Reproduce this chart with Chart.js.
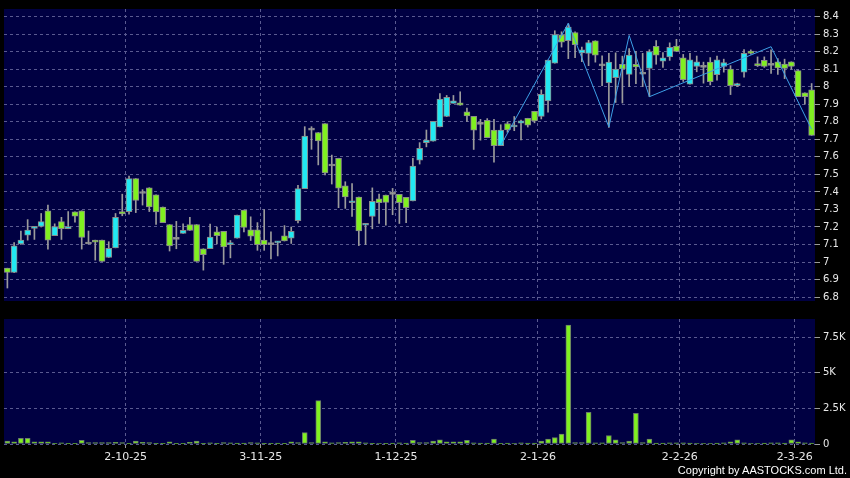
<!DOCTYPE html>
<html>
  <head>
    <title>Daily candles and volume</title>
    <script src="https://cdn.jsdelivr.net/npm/chart.js@4.4.1/dist/chart.umd.min.js"></script>
    <style>
      body { margin: 0; background: #000; }
      #wrap { position: relative; width: 850px; height: 478px; }
      canvas { position: absolute; left: 0; }
      #price { top: 0; }
      #volume { top: 310px; }
      #copy {
        position: absolute; right: 3px; top: 464px;
        color: #fff; font: 11px 'Liberation Sans', Arial, sans-serif;
      }
    </style>
  </head>
  <body>
    <div id="wrap">
      <canvas id="price" width="850" height="310"></canvas>
      <canvas id="volume" width="850" height="168"></canvas>
      <div id="copy">Copyright by AASTOCKS.com Ltd.</div>
    </div>
    <script>
      // trading days, 5-9-25 .. 4-3-26
      const days = [
        '5-9-25','8-9-25','9-9-25','10-9-25','11-9-25','12-9-25','15-9-25','16-9-25','17-9-25','18-9-25',
        '19-9-25','22-9-25','23-9-25','24-9-25','25-9-25','26-9-25','29-9-25','30-9-25',
        '2-10-25','3-10-25','6-10-25','8-10-25','9-10-25','10-10-25','13-10-25','14-10-25','15-10-25','16-10-25',
        '17-10-25','20-10-25','21-10-25','22-10-25','23-10-25','24-10-25','27-10-25','28-10-25','30-10-25','31-10-25',
        '3-11-25','4-11-25','5-11-25','6-11-25','7-11-25','10-11-25','11-11-25','12-11-25','13-11-25','14-11-25',
        '17-11-25','18-11-25','19-11-25','20-11-25','21-11-25','24-11-25','25-11-25','26-11-25','27-11-25','28-11-25',
        '1-12-25','2-12-25','3-12-25','4-12-25','5-12-25','8-12-25','9-12-25','10-12-25','11-12-25','12-12-25',
        '15-12-25','16-12-25','17-12-25','18-12-25','19-12-25','22-12-25','23-12-25','24-12-25','29-12-25','30-12-25','31-12-25',
        '2-1-26','5-1-26','6-1-26','7-1-26','8-1-26','9-1-26','12-1-26','13-1-26','14-1-26','15-1-26',
        '16-1-26','19-1-26','20-1-26','21-1-26','22-1-26','23-1-26','26-1-26','27-1-26','28-1-26','29-1-26','30-1-26',
        '2-2-26','3-2-26','4-2-26','5-2-26','6-2-26','9-2-26','10-2-26','11-2-26','12-2-26','13-2-26',
        '16-2-26','20-2-26','23-2-26','24-2-26','25-2-26','26-2-26','27-2-26',
        '2-3-26','3-3-26','4-3-26'
      ];

      const opens = [
        6.965,6.941,7.103,7.153,7.192,7.203,7.292,7.151,7.231,7.19,
        7.286,7.292,7.103,7.125,7.125,7.026,7.081,7.288,7.288,7.476,
        7.391,7.424,7.384,7.314,7.214,7.129,7.164,7.214,7.214,7.076,
        7.076,7.173,7.175,7.099,7.136,7.297,7.184,7.184,7.125,7.099,
        7.109,7.149,7.136,7.236,7.419,7.752,7.739,7.789,7.548,7.592,
        7.435,7.338,7.371,7.21,7.26,7.36,7.382,7.386,7.386,7.369,
        7.349,7.581,7.681,7.69,7.771,7.831,7.905,7.908,7.857,7.831,
        7.785,7.808,7.753,7.664,7.79,7.77,7.792,7.82,7.86,7.831,
        7.919,8.134,8.296,8.263,8.309,8.193,8.19,8.262,8.119,8.021,
        8.051,8.128,8.07,8.128,8.071,8.104,8.23,8.146,8.17,8.231,
        8.164,8.015,8.115,8.11,8.14,8.068,8.115,8.101,8.006,8.083,
        8.203,8.129,8.15,8.122,8.142,8.129,8.142,8.092,7.965,7.982
      ];
      const highs = [
        6.965,7.111,7.177,7.242,7.2,7.277,7.325,7.218,7.255,7.288,
        7.286,7.292,7.177,7.125,7.125,7.116,7.277,7.387,7.491,7.476,
        7.413,7.424,7.384,7.314,7.214,7.232,7.218,7.255,7.214,7.076,
        7.216,7.199,7.175,7.123,7.268,7.297,7.258,7.225,7.299,7.172,
        7.118,7.208,7.2,7.438,7.772,7.772,7.739,7.789,7.61,7.592,
        7.458,7.448,7.371,7.221,7.423,7.387,7.382,7.42,7.386,7.369,
        7.592,7.681,7.753,7.803,7.961,7.95,7.95,7.971,7.878,7.831,
        7.814,7.818,7.814,7.783,7.8,7.83,7.81,7.82,7.86,7.982,
        8.152,8.319,8.313,8.359,8.313,8.226,8.264,8.262,8.176,8.19,
        8.193,8.174,8.217,8.2,8.19,8.211,8.263,8.194,8.25,8.27,
        8.184,8.19,8.175,8.14,8.166,8.175,8.157,8.12,8.02,8.212,
        8.21,8.17,8.17,8.21,8.16,8.157,8.142,8.095,7.965,8.018
      ];
      const lows = [
        6.852,6.94,7.1,7.125,7.129,7.2,7.074,7.151,7.129,7.19,
        7.227,7.074,7.103,7.011,7.004,7.026,7.081,7.264,7.273,7.282,
        7.325,7.288,7.214,7.225,7.063,7.076,7.164,7.181,7.004,6.954,
        7.076,7.103,6.987,7.024,7.136,7.172,7.123,7.067,7.067,7.018,
        7.035,7.12,7.106,7.223,7.419,7.643,7.554,7.497,7.445,7.31,
        7.306,7.26,7.094,7.1,7.19,7.22,7.21,7.27,7.22,7.225,
        7.349,7.559,7.657,7.69,7.771,7.829,7.905,7.894,7.802,7.642,
        7.695,7.709,7.57,7.664,7.74,7.749,7.696,7.77,7.794,7.816,
        7.855,8.134,8.226,8.16,8.165,8.143,8.12,8.14,8.006,7.768,
        7.91,7.907,8.0,8.017,8.0,7.943,8.128,8.11,8.15,8.2,
        8.03,8.015,8.085,8.02,8.01,8.037,8.083,7.955,8.0,8.055,
        8.185,8.115,8.11,8.075,8.07,8.046,8.1,7.943,7.9,7.722
      ];
      const closes = [
        6.941,7.092,7.125,7.183,7.2,7.231,7.125,7.203,7.19,7.203,
        7.262,7.14,7.103,7.113,7.004,7.079,7.255,7.275,7.476,7.351,
        7.391,7.314,7.286,7.225,7.092,7.129,7.181,7.181,7.004,7.042,
        7.142,7.151,7.087,7.11,7.268,7.197,7.147,7.099,7.099,7.099,
        7.118,7.12,7.175,7.419,7.719,7.752,7.691,7.508,7.548,7.422,
        7.371,7.349,7.177,7.221,7.347,7.338,7.34,7.386,7.338,7.31,
        7.548,7.648,7.696,7.803,7.93,7.94,7.92,7.894,7.834,7.752,
        7.785,7.709,7.664,7.753,7.753,7.779,7.806,7.78,7.805,7.956,
        8.152,8.297,8.254,8.34,8.24,8.21,8.252,8.18,8.119,8.14,
        8.1,8.101,8.18,8.113,8.071,8.2,8.18,8.164,8.225,8.201,
        8.04,8.153,8.142,8.11,8.028,8.153,8.138,8.006,8.018,8.19,
        8.19,8.12,8.116,8.122,8.107,8.104,8.116,7.943,7.943,7.722
      ];
      const volumes = [
        200,150,400,400,150,150,150,50,80,50,
        50,250,100,100,100,100,120,100,50,200,
        120,100,50,50,150,50,50,120,200,50,
        80,50,100,80,60,60,100,80,50,50,
        60,50,150,100,800,100,3050,150,80,100,
        120,150,150,80,50,40,50,60,80,60,
        250,100,100,200,300,150,150,150,250,80,
        60,60,350,50,60,40,80,60,60,200,
        350,450,700,8370,100,100,2230,80,80,600,
        300,100,200,2150,100,350,60,60,80,80,
        80,60,40,40,40,60,80,150,300,80,
        40,40,60,80,80,60,300,150,80,60
      ];

      // zigzag overlay: candle index and price
      const zigIdx = [73, 83, 89, 92, 95, 113, 119];
      const zigVal = [7.665, 8.362, 7.77, 8.292, 7.943, 8.228, 7.757];

      const priceTicks = [6.8, 6.9, 7, 7.1, 7.2, 7.3, 7.4, 7.5, 7.6, 7.7, 7.8, 7.9, 8, 8.1, 8.2, 8.3, 8.4];
      const volTicks = [0, 2500, 5000, 7500];
      const volLabels = ['0', '2.5K', '5K', '7.5K'];
      const dateTickIdx = [18, 38, 58, 79, 100, 117];

      const UP = '#22e8f2', DOWN = '#80f020', FLAT = '#a0a0a0', EDGE = '#8a8a8a';
      const NAVY = '#000042', GRID = '#5a5a90', TEXT = '#e8e8e8';

      const bodyColors = opens.map((o, i) => closes[i] > o ? UP : closes[i] < o ? DOWN : FLAT);
      const n = days.length;

      const navyArea = {
        id: 'navyArea',
        beforeDraw(chart) {
          const { ctx, chartArea: a } = chart;
          ctx.save();
          ctx.fillStyle = NAVY;
          ctx.fillRect(a.left, a.top, a.right - a.left, a.bottom - a.top);
          ctx.restore();
        },
      };

      // grid line dash lives in border.dash in Chart.js v4
      const xScale = (showLabels) => ({
        type: 'linear',
        min: -0.5,
        max: n - 0.5,
        offset: false,
        afterBuildTicks: (s) => { s.ticks = dateTickIdx.map((i) => ({ value: i - 0.5 })); },
        afterFit: (s) => { s.height = showLabels ? 24 : 0; },
        border: { display: false, dash: [3, 3] },
        grid: {
          offset: false,
          color: GRID,
          drawTicks: showLabels,
          tickLength: 4,
          tickColor: '#9a9a9a',
          tickBorderDash: [],
        },
        ticks: {
          display: showLabels,
          maxRotation: 0,
          autoSkip: false,
          padding: 3,
          color: TEXT,
          font: { family: 'DejaVu Sans', size: 11 },
          callback: (v) => days[Math.round(v + 0.5)],
        },
      });

      const yScale = (min, max, ticks, fmt) => ({
        position: 'right',
        min: min,
        max: max,
        afterBuildTicks: (s) => { s.ticks = ticks.map((v) => ({ value: v })); },
        afterFit: (s) => { s.width = 35; },
        border: { display: false, dash: [3, 3] },
        grid: {
          color: GRID,
          tickLength: 5,
          tickColor: '#9a9a9a',
          tickBorderDash: [],
        },
        ticks: {
          padding: 3,
          color: TEXT,
          font: { family: 'DejaVu Sans', size: 10 },
          callback: fmt,
        },
      });

      new Chart(document.getElementById('price'), {
        type: 'bar',
        data: {
          datasets: [
            {
              type: 'line',
              order: 0,
              data: zigIdx.map((x, k) => ({ x: x, y: zigVal[k] })),
              borderColor: '#3d9fe6',
              borderWidth: 1,
              pointRadius: 0,
            },
            {
              order: 1,
              grouped: false,
              data: opens.map((o, i) => ({ x: i, y: [o, closes[i]] })),
              backgroundColor: bodyColors,
              borderColor: EDGE,
              borderWidth: 1,
              borderSkipped: false,
              barThickness: 6,
              minBarLength: 2,
            },
            {
              order: 2,
              grouped: false,
              data: lows.map((l, i) => ({ x: i, y: [l, highs[i]] })),
              backgroundColor: '#9c9c9c',
              barThickness: 1,
            },
          ],
        },
        options: {
          responsive: false,
          animation: false,
          layout: { padding: { left: 4, top: 5, right: 0, bottom: 4 } },
          plugins: { legend: { display: false }, tooltip: { enabled: false } },
          scales: {
            x: xScale(false),
            y: yScale(6.778, 8.443, priceTicks, (v) => String(+v.toFixed(1))),
          },
        },
        plugins: [navyArea],
      });

      new Chart(document.getElementById('volume'), {
        type: 'bar',
        data: {
          datasets: [
            {
              data: volumes.map((v, i) => ({ x: i, y: v })),
              backgroundColor: DOWN,
              borderColor: '#6a7a6a',
              borderWidth: 1,
              borderSkipped: false,
              barThickness: 5,
            },
          ],
        },
        options: {
          responsive: false,
          animation: false,
          layout: { padding: { left: 4, top: 9, right: 0, bottom: 10 } },
          plugins: { legend: { display: false }, tooltip: { enabled: false } },
          scales: {
            x: xScale(true),
            y: yScale(0, 8790, volTicks, (v) => volLabels[volTicks.indexOf(v)]),
          },
        },
        plugins: [navyArea],
      });
    </script>
  </body>
</html>
